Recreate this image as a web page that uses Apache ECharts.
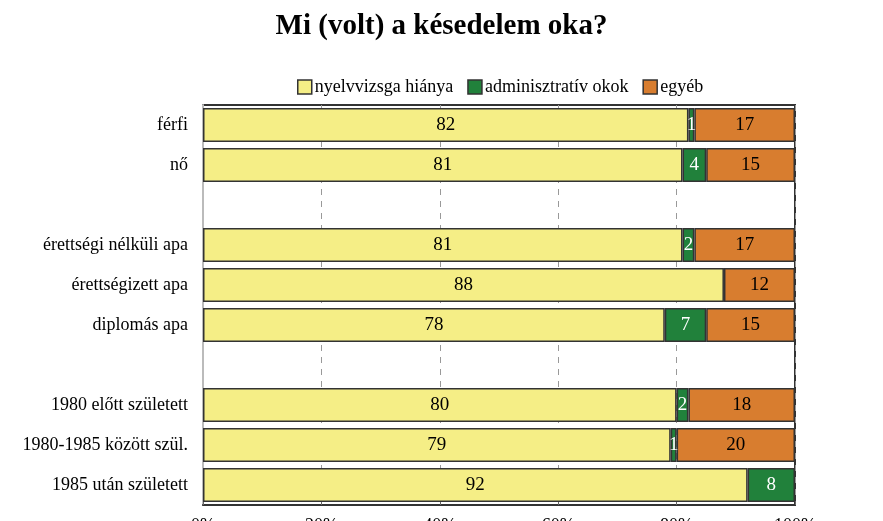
<!DOCTYPE html>
<html><head><meta charset="utf-8">
<script src="https://cdn.jsdelivr.net/npm/echarts@6/dist/echarts.min.js"></script>
<style>html,body{margin:0;padding:0;background:#fff}#c{width:883px;height:521px}</style>
</head><body><div id="c"></div>
<script>
const categories = ['férfi', 'nő', ' ', 'érettségi nélküli apa', 'érettségizett apa', 'diplomás apa', '  ', '1980 előtt született', '1980-1985 között szül.', '1985 után született'];
const seriesNames = ['nyelvvizsga hiánya', 'adminisztratív okok', 'egyéb'];
const nyelvvizsga = [82, 81, null, 81, 88, 78, null, 80, 79, 92];
const adminisztrativ = [1, 4, null, 2, null, 7, null, 2, 1, 8];
const egyeb = [17, 15, null, 17, 12, 15, null, 18, 20, null];
const tickLabels = ['0%', '20%', '40%', '60%', '80%', '100%'];

const colors = ['#F5EE86', '#21813B', '#D87D2F'];
const labelColors = ['#000', '#fff', '#000'];
const font = '"Liberation Serif", "Times New Roman", serif';
const values = [nyelvvizsga, adminisztrativ, egyeb];

const chart = echarts.init(document.getElementById('c'), null, {renderer: 'canvas'});
chart.setOption({
  animation: false,
  textStyle: {fontFamily: font},
  title: {
    text: 'Mi (volt) a késedelem oka?', left: 'center', top: 7,
    textStyle: {fontFamily: font, fontSize: 29, fontWeight: 'bold', color: '#000'}
  },
  legend: {
    top: 73, left: 292, itemWidth: 14, itemHeight: 14, itemGap: 14,
    icon: 'rect',
    textStyle: {fontFamily: font, fontSize: 18, color: '#000', padding: [0, 0, 0, -2]},
    itemStyle: {borderColor: '#333', borderWidth: 1.5},
    data: seriesNames
  },
  grid: {left: 203, right: 88, top: 105, bottom: 16, show: true, borderColor: '#333', borderWidth: 2, containLabel: false, outerBoundsMode: 'none'},
  xAxis: {
    type: 'value', min: 0, max: 100, interval: 20,
    axisLabel: {formatter: v => tickLabels[v / 20], fontFamily: font, fontSize: 18, color: '#000', margin: 12},
    axisLine: {show: true, lineStyle: {color: '#333', width: 2}},
    axisTick: {show: true, inside: true, length: 4, lineStyle: {color: '#666'}},
    splitLine: {show: true, lineStyle: {type: [6, 6], color: '#999', width: 1}}
  },
  yAxis: {
    type: 'category', inverse: true, data: categories,
    axisLine: {show: true, lineStyle: {color: '#bbb', width: 2}},
    axisTick: {show: false},
    axisLabel: {fontFamily: font, fontSize: 18, color: '#000', margin: 15}
  },
  series: seriesNames.map((name, i) => ({
    name, type: 'bar', stack: 'total', barWidth: 34,
    data: values[i],
    itemStyle: {color: colors[i], borderColor: '#333', borderWidth: 1.5},
    label: {
      show: true, position: 'inside', fontFamily: font, fontSize: 19, color: labelColors[i],
      formatter: p => (p.value == null || p.value === '-') ? '' : String(p.value)
    }
  }))
});
</script></body></html>
